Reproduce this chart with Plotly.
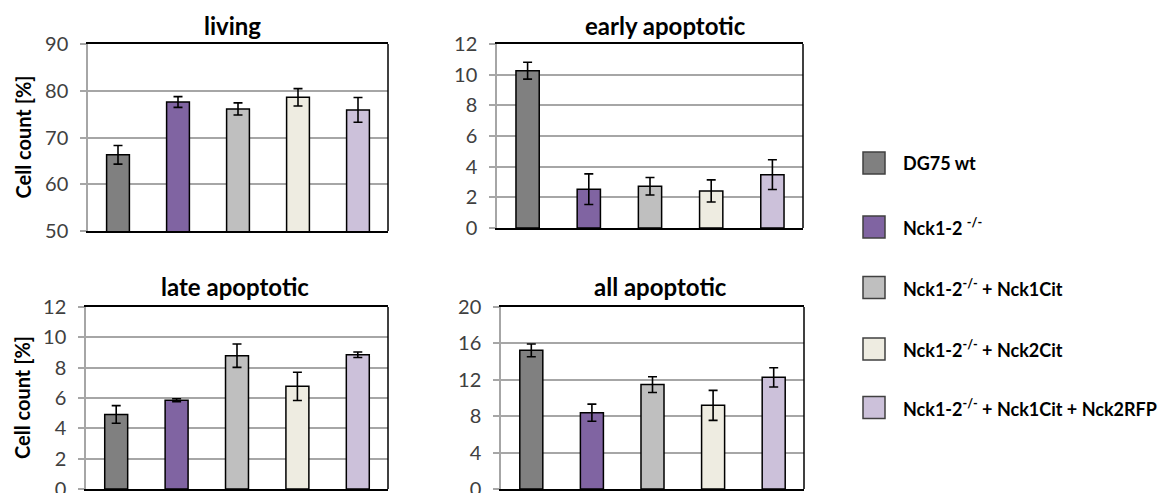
import plotly.graph_objects as go

# Cell lines (categories) and legend labels
groups = ["DG75 wt", "Nck1-2 -/-", "Nck1-2 -/- + Nck1Cit", "Nck1-2 -/- + Nck2Cit",
          "Nck1-2 -/- + Nck1Cit + Nck2RFP"]
legend_labels = ["DG75 wt", "Nck1-2 <sup>-/-</sup>", "Nck1-2<sup>-/-</sup> + Nck1Cit",
                 "Nck1-2<sup>-/-</sup> + Nck2Cit", "Nck1-2<sup>-/-</sup> + Nck1Cit + Nck2RFP"]
colors = ["#808080", "#8064A2", "#BFBFBF", "#EEECE1", "#CCC1DA"]

# Cell count [%] per population, mean and error
living = [66.3, 77.6, 76.1, 78.6, 75.9]
living_err = [2.0, 1.15, 1.3, 1.85, 2.65]
early = [10.26, 2.53, 2.72, 2.42, 3.48]
early_err = [0.55, 1.0, 0.57, 0.72, 0.97]
late = [4.92, 5.85, 8.79, 6.77, 8.85]
late_err = [0.58, 0.1, 0.77, 0.93, 0.18]
all_apo = [15.24, 8.39, 11.47, 9.19, 12.27]
all_apo_err = [0.7, 0.94, 0.86, 1.65, 1.06]

panel_titles = ["living", "early apoptotic", "late apoptotic", "all apoptotic"]
y_ranges = [(50, 90, 10), (0, 12, 2), (0, 12, 2), (0, 20, 4)]

W, H = 1158, 493
FONT = "Lato"


def fx(x):
    return x / W


def fy(y):
    return 1 - y / H


# panel boxes in pixels: left, right, top, bottom
boxes = [(88, 388, 44, 231), (497, 803, 44, 228), (86, 388, 307, 489), (501, 804, 307, 489)]
# title anchor points (center x, bottom y) in pixels
title_pos = [(232, 42), (665, 42), (235, 303), (660, 303)]
series = [(living, living_err), (early, early_err), (late, late_err), (all_apo, all_apo_err)]

fig = go.Figure()
layout = dict(
    width=W, height=H, margin=dict(l=0, r=0, t=0, b=0, autoexpand=False),
    paper_bgcolor="white", plot_bgcolor="white", showlegend=False,
    bargap=0.62, font=dict(family=FONT),
)
annotations = []
shapes = []

for i, ((vals, errs), (l, r, t, b), title, (y0, y1, dt), (tx, ty)) in enumerate(
        zip(series, boxes, panel_titles, y_ranges, title_pos)):
    n = "" if i == 0 else str(i + 1)
    fig.add_trace(go.Bar(
        x=groups, y=vals, xaxis="x" + n, yaxis="y" + n,
        marker=dict(color=colors, line=dict(color="#000000", width=1.5)),
        error_y=dict(type="data", array=errs, visible=True, color="#000000",
                     thickness=1.6, width=4.5),
    ))
    layout["xaxis" + n] = dict(
        domain=[fx(l), fx(r)], anchor="y" + n, showticklabels=False, ticks="",
        showline=True, linecolor="#000000", linewidth=1.5, mirror=True,
        showgrid=False, zeroline=False, fixedrange=True, automargin=False,
    )
    layout["yaxis" + n] = dict(
        domain=[fy(b), fy(t)], anchor="x" + n, range=[y0, y1], dtick=dt, tick0=y0,
        showline=True, linecolor="#A6A6A6", linewidth=1.5, ticks="outside",
        ticklen=6, tickcolor="#A6A6A6", tickwidth=1.5, ticklabelstandoff=8,
        showgrid=True, gridcolor="#A6A6A6", gridwidth=1.5, zeroline=False,
        tickfont=dict(family=FONT, size=20, color="#404040"), fixedrange=True,
        automargin=False, ticklabeloverflow="allow",
    )
    # right frame edge
    shapes.append(dict(type="line", xref="x" + n + " domain", yref="y" + n + " domain",
                       x0=1, x1=1, y0=0, y1=1, line=dict(color="#000000", width=1.5)))
    annotations.append(dict(
        text="<b>" + title + "</b>", xref="paper", yref="paper",
        x=fx(tx), y=fy(ty), xanchor="center", yanchor="bottom",
        showarrow=False, font=dict(family=FONT, size=24, color="#000000"),
    ))

# y-axis titles for the left column
for (l, r, t, b) in (boxes[0], boxes[2]):
    annotations.append(dict(
        text="<b>Cell count [%]</b>", xref="paper", yref="paper",
        x=fx(22), y=fy((t + b) / 2), xanchor="center", yanchor="middle",
        textangle=-90, showarrow=False,
        font=dict(family=FONT, size=20, color="#000000"),
    ))

# legend: colored squares with labels
legend_y = [163, 227, 287.5, 349, 407.5]
for lab, col, yc in zip(legend_labels, colors, legend_y):
    shapes.append(dict(type="rect", xref="paper", yref="paper",
                       x0=fx(863), x1=fx(885), y0=fy(yc + 11), y1=fy(yc - 11),
                       fillcolor=col, line=dict(color="#404040", width=1.5)))
    annotations.append(dict(
        text="<b>" + lab + "</b>", xref="paper", yref="paper",
        x=fx(901), y=fy(yc), xanchor="left", yanchor="middle",
        showarrow=False, font=dict(family=FONT, size=18, color="#000000"),
    ))

layout["annotations"] = annotations
layout["shapes"] = shapes
fig.update_layout(**layout)
fig.write_html("out.html")
